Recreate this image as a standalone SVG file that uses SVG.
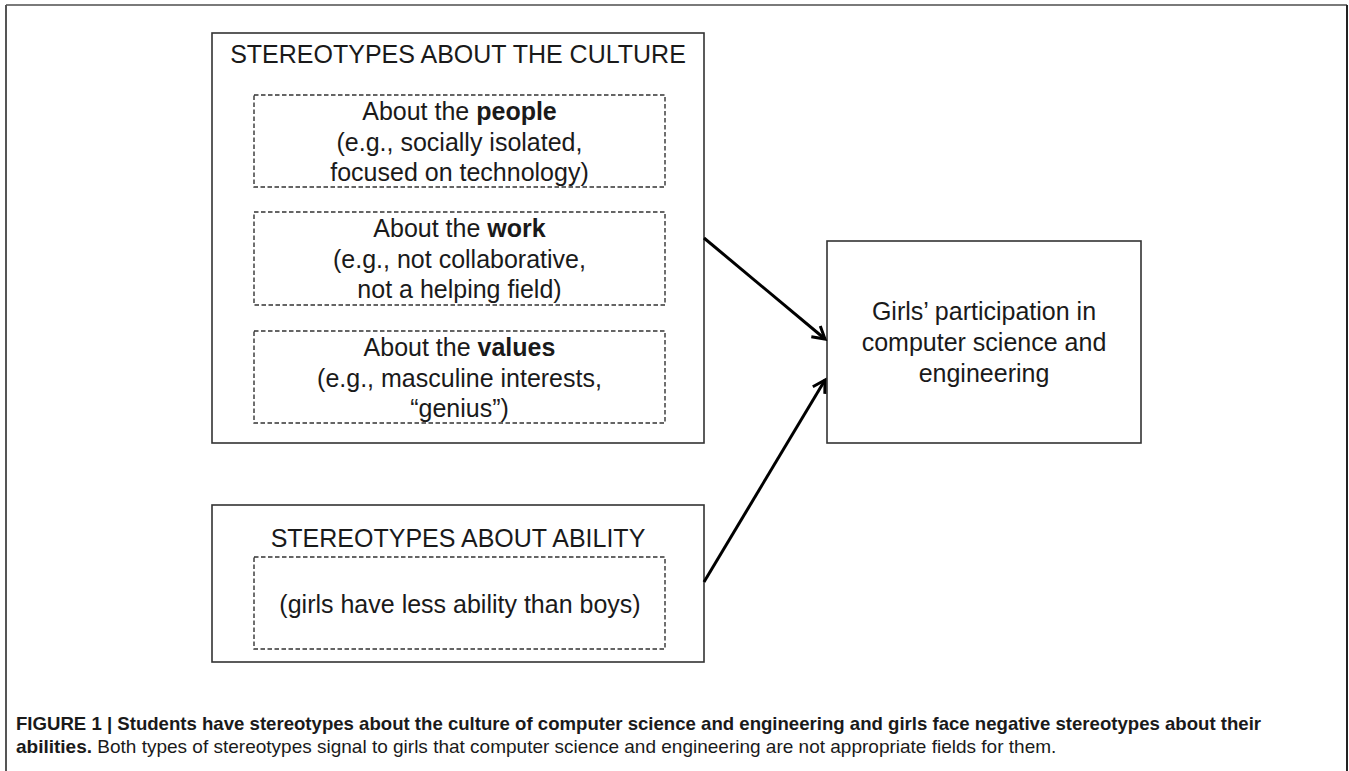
<svg xmlns="http://www.w3.org/2000/svg" width="1349" height="771" viewBox="0 0 1349 771">
<style>
  .t { font-family: "Liberation Sans", Arial, sans-serif; font-size: 25px; fill: #1a1a1a; text-anchor: middle; }
  .b { font-weight: bold; }
  .box { fill: #ffffff; stroke: #333333; stroke-width: 1.6; }
  .dash { fill: none; stroke: #333333; stroke-width: 1.4; stroke-dasharray: 4.5 2.5; }
  .conn { stroke: #000000; stroke-width: 3; fill: none; }
  .cap { font-family: "Liberation Sans", Arial, sans-serif; fill: #1a1a1a; }
</style>
<defs>
  <marker id="arr" markerUnits="userSpaceOnUse" markerWidth="20" markerHeight="20" refX="14" refY="8" orient="auto" viewBox="0 0 20 16">
    <path d="M2,1 L14,8 L2,15" fill="none" stroke="#000" stroke-width="3"/>
  </marker>
</defs>
<rect x="0" y="0" width="1349" height="771" fill="#ffffff"/>
<g id="frame">
  <line x1="6" y1="5" x2="1347" y2="5" stroke="#7a7a7a" stroke-width="2"/>
  <line x1="6" y1="5" x2="6" y2="771" stroke="#555555" stroke-width="2"/>
  <line x1="1347" y1="5" x2="1347" y2="771" stroke="#222222" stroke-width="2"/>
</g>
<g id="culture">
  <rect class="box" x="212" y="33" width="492" height="410"/>
  <text class="t" x="458" y="63">STEREOTYPES ABOUT THE CULTURE</text>
</g>
<g id="people">
  <rect class="dash" x="254" y="95" width="411" height="92"/>
  <text class="t" x="459.5" y="120">About the <tspan class="b">people</tspan></text>
  <text class="t" x="459.5" y="151">(e.g., socially isolated,</text>
  <text class="t" x="459.5" y="181">focused on technology)</text>
</g>
<g id="work">
  <rect class="dash" x="254" y="212" width="411" height="93"/>
  <text class="t" x="459.5" y="237">About the <tspan class="b">work</tspan></text>
  <text class="t" x="459.5" y="268">(e.g., not collaborative,</text>
  <text class="t" x="459.5" y="298">not a helping field)</text>
</g>
<g id="values">
  <rect class="dash" x="254" y="331" width="411" height="92"/>
  <text class="t" x="459.5" y="356">About the <tspan class="b">values</tspan></text>
  <text class="t" x="459.5" y="387">(e.g., masculine interests,</text>
  <text class="t" x="459.5" y="417">“genius”)</text>
</g>
<g id="ability">
  <rect class="box" x="212" y="505" width="492" height="157"/>
  <text class="t" x="458" y="547">STEREOTYPES ABOUT ABILITY</text>
  <rect class="dash" x="254" y="557" width="411" height="92"/>
  <text class="t" x="460" y="613">(girls have less ability than boys)</text>
</g>
<g id="participation">
  <rect class="box" x="827" y="241" width="314" height="202"/>
  <text class="t" x="984" y="320">Girls’ participation in</text>
  <text class="t" x="984" y="351">computer science and</text>
  <text class="t" x="984" y="382">engineering</text>
</g>
<g id="connectors">
  <line class="conn" x1="704" y1="238" x2="825" y2="339" marker-end="url(#arr)"/>
  <line class="conn" x1="704" y1="582" x2="825" y2="380" marker-end="url(#arr)"/>
</g>
<g id="caption">
  <text class="cap" x="16" y="730" font-size="18.6"><tspan class="b">FIGURE 1 | Students have stereotypes about the culture of computer science and engineering and girls face negative stereotypes about their</tspan></text>
  <text class="cap" x="16" y="753" font-size="19"><tspan class="b">abilities.</tspan> Both types of stereotypes signal to girls that computer science and engineering are not appropriate fields for them.</text>
</g>
</svg>
